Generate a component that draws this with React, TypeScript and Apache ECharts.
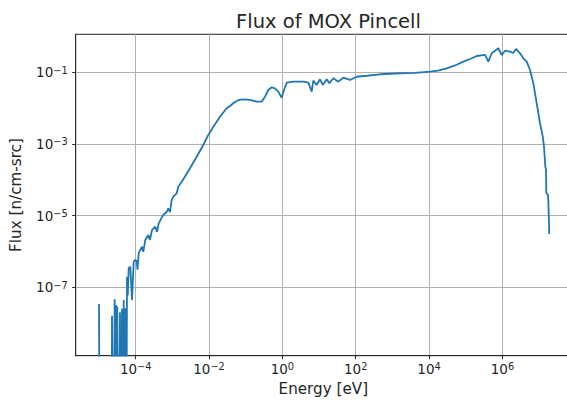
import { useEffect, useRef } from 'react';
import * as echarts from 'echarts';

// Energy [eV] and flux [n/cm-src] (0 = no tally)
const energy = [
  1.0e-5, 1.05e-5, 2.2e-5, 2.26e-5, 2.45e-5, 2.67e-5, 2.8e-5, 2.9e-5, 3.02e-5, 3.15e-5,
  3.44e-5, 3.73e-5, 3.95e-5, 4.23e-5, 4.45e-5, 4.71e-5, 4.95e-5, 5.2e-5, 5.5e-5, 5.79e-5,
  6.1e-5, 6.44e-5, 7.13e-5, 7.93e-5, 8.82e-5, 9.75e-5, 1.06e-4, 1.12e-4, 1.21e-4, 1.49e-4,
  1.61e-4, 1.83e-4, 2.21e-4, 2.45e-4, 2.79e-4, 3.43e-4, 3.81e-4, 4.24e-4, 4.99e-4, 5.66e-4,
  7.0e-4, 7.74e-4, 8.6e-4, 9.59e-4, 1.06e-3, 1.31e-3, 1.45e-3, 1.99e-3, 3.03e-3, 4.6e-3,
  6.97e-3, 9.55e-3, 1.31e-2, 1.99e-2, 3.03e-2, 3.73e-2, 4.59e-2, 5.68e-2, 6.68e-2, 8.6e-2,
  0.131, 0.2, 0.273, 0.336, 0.413, 0.512, 0.63, 0.775, 0.96, 1.11,
  1.31, 1.99, 3.72, 5.1, 6.3, 6.97, 8.6, 10.6, 12.6, 16.2,
  19.1, 24.5, 33.5, 45.8, 69.8, 106, 200, 459, 1610, 4140,
  1.06e4, 1.75e4, 3.03e4, 5.1e4, 8.59e4, 1.31e5, 1.99e5, 3.36e5, 4.12e5, 5.1e5,
  7.73e5, 9.57e5, 1.18e6, 1.61e6, 1.98e6, 2.35e6, 3.02e6, 3.72e6, 4.6e6, 5.66e6,
  6.97e6, 8.61e6, 1.06e7, 1.26e7, 1.36e7, 1.48e7, 1.55e7, 1.57e7, 1.75e7, 1.79e7,
  1.9e7,
];
const flux = [
  3.4e-8, 0, 0, 1.6e-8, 0, 4.6e-8, 0, 3.2e-8, 0, 2.9e-8,
  0, 2.0e-8, 0, 2.5e-8, 0, 4.4e-8, 0, 2.6e-8, 0, 1.97e-7,
  6e-8, 3.39e-7, 3.75e-7, 4.4e-8, 5.2e-7, 5.8e-7, 5.5e-7, 3.1e-7, 9.1e-7, 1.36e-6,
  9.7e-7, 2.09e-6, 2.88e-6, 2.1e-6, 3.97e-6, 4.9e-6, 3.5e-6, 6.1e-6, 8.4e-6, 1.04e-5,
  1.28e-5, 1.6e-5, 1.26e-5, 2.73e-5, 3.37e-5, 4.2e-5, 6.4e-5, 1.03e-4, 2.09e-4, 4.4e-4,
  9.35e-4, 1.78e-3, 3.03e-3, 5.77e-3, 9.9e-3, 1.15e-2, 1.36e-2, 1.58e-2, 1.69e-2, 1.76e-2,
  1.69e-2, 1.51e-2, 1.51e-2, 2.08e-2, 3.2e-2, 3.81e-2, 3.57e-2, 2.87e-2, 1.95e-2, 3.2e-2,
  5.13e-2, 5.47e-2, 5.47e-2, 5.13e-2, 2.88e-2, 5.83e-2, 4.43e-2, 6.38e-2, 4.43e-2, 6.38e-2,
  4.93e-2, 6.8e-2, 5.47e-2, 7.06e-2, 6.1e-2, 7.5e-2, 8.0e-2, 8.8e-2, 9.4e-2, 9.68e-2,
  0.104, 0.112, 0.129, 0.155, 0.198, 0.235, 0.285, 0.304, 0.198, 0.339,
  0.468, 0.304, 0.40, 0.376, 0.346, 0.447, 0.339, 0.246, 0.198, 0.116,
  0.0493, 0.0136, 3.78e-3, 1.6e-3, 8.4e-4, 2.32e-4, 1.87e-4, 4.3e-5, 3.76e-5, 2.25e-5,
  3.07e-6,
];

// Decade exponents carrying tick labels, and the axis limits (log10 units)
const xTickExponents = [-4, -2, 0, 2, 4, 6];
const yTickExponents = [-7, -5, -3, -1];
const xLimits = [-5.636, 7.87];
const yLimits = [-8.91, 0.06];

const titleText = 'Flux of MOX Pincell';
const xName = 'Energy [eV]';
const yName = 'Flux [n/cm-src]';

export default function App() {
  const ref = useRef<HTMLDivElement>(null);
  useEffect(() => {
    if (!ref.current) return;
    const chart = echarts.init(ref.current, null, { renderer: 'svg' });
    const fontFamily = 'DejaVu Sans';
    const ink = '#262626';
    const data = energy.map((e, i) => [Math.log10(e), Math.log10(Math.max(flux[i], 1e-14))]);
    const sup = (v: number) => `{b|10}{s|${v < 0 ? '\u2212' : ''}${Math.abs(Math.round(v))}}`;
    const rich = {
      b: { fontSize: 13.5, lineHeight: 14, padding: [4, 0, 0, 0], verticalAlign: 'bottom', color: ink, fontFamily },
      s: { fontSize: 9.8, lineHeight: 11, verticalAlign: 'top', color: ink, fontFamily },
    };
    const axisCommon = {
      type: 'value',
      axisLine: { show: true, onZero: false, lineStyle: { color: ink, width: 1 } },
      splitLine: { show: true, lineStyle: { color: '#b0b0b0', width: 1 } },
    };
    chart.setOption({
      animation: false,
      title: {
        text: titleText,
        left: 323.5,
        textAlign: 'center',
        top: 6,
        textStyle: { fontFamily, fontSize: 19.5, fontWeight: 'normal', color: ink },
      },
      grid: {
        left: 75.7,
        top: 34.3,
        right: -4,
        bottom: 48.3,
        show: true,
        borderColor: ink,
        borderWidth: 1,
        containLabel: false,
        outerBoundsMode: 'none',
      },
      xAxis: {
        ...axisCommon,
        min: xLimits[0],
        max: xLimits[1],
        name: xName,
        nameLocation: 'middle',
        nameGap: 26,
        nameTextStyle: { fontFamily, fontSize: 15.2, color: ink },
        axisTick: { show: true, inside: false, length: 3.5, customValues: xTickExponents, lineStyle: { color: ink, width: 1 } },
        axisLabel: { customValues: xTickExponents, margin: 6, formatter: (v: number) => sup(v), rich },
      },
      yAxis: {
        ...axisCommon,
        min: yLimits[0],
        max: yLimits[1],
        name: yName,
        nameLocation: 'middle',
        nameGap: 52,
        nameTextStyle: { fontFamily, fontSize: 15.2, color: ink },
        axisTick: { show: true, inside: false, length: 3.5, customValues: yTickExponents, lineStyle: { color: ink, width: 1 } },
        axisLabel: { customValues: yTickExponents, margin: 8, formatter: (v: number) => sup(v), rich },
      },
      series: [
        {
          type: 'line',
          data,
          showSymbol: false,
          clip: true,
          lineStyle: { color: '#1f77b4', width: 1.8 },
          itemStyle: { color: '#1f77b4' },
          z: 3,
        },
      ],
    });
    return () => chart.dispose();
  }, []);
  return <div ref={ref} style={{ position: 'absolute', left: 0, top: 0, width: 567, height: 404 }} />;
}
